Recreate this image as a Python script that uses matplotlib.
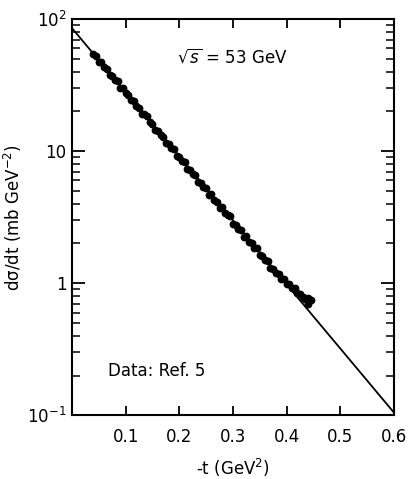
import matplotlib
matplotlib.use("Agg")
import matplotlib.pyplot as plt
from matplotlib.ticker import LogLocator, NullFormatter, FixedLocator

# -t values (GeV^2) and d(sigma)/dt (mb GeV^-2)
t_data = [0.040, 0.045, 0.050, 0.055, 0.060, 0.065, 0.070, 0.075, 0.080, 0.085,
          0.090, 0.095, 0.100, 0.105, 0.110, 0.115, 0.120, 0.125, 0.130, 0.135,
          0.140, 0.145, 0.150, 0.155, 0.160, 0.165, 0.170, 0.175, 0.180, 0.185,
          0.190, 0.195, 0.200, 0.205, 0.210, 0.215, 0.220, 0.225, 0.230, 0.235,
          0.240, 0.245, 0.250, 0.255, 0.260, 0.265, 0.270, 0.275, 0.280, 0.285,
          0.290, 0.295, 0.300, 0.305, 0.310, 0.315, 0.320, 0.325, 0.330, 0.335,
          0.340, 0.345, 0.350, 0.355, 0.360, 0.365, 0.370, 0.375, 0.380, 0.385,
          0.390, 0.395, 0.400, 0.405, 0.410, 0.415, 0.420, 0.425, 0.430, 0.435,
          0.440, 0.440, 0.445]
dsdt_data = [54.3, 52.6, 47.4, 47.0, 43.4, 41.9, 37.8, 37.4, 34.6, 33.8,
             30.1, 29.9, 27.5, 26.7, 24.3, 24.1, 22.0, 21.2, 19.2, 19.0,
             18.4, 16.6, 16.0, 14.5, 14.3, 13.2, 12.9, 11.5, 11.4, 10.5,
             10.4, 9.18, 9.10, 8.40, 8.30, 7.33, 7.24, 6.70, 6.62, 5.83,
             5.78, 5.33, 5.22, 4.66, 4.72, 4.26, 4.11, 3.72, 3.76, 3.40,
             3.28, 3.24, 2.80, 2.77, 2.56, 2.53, 2.23, 2.26, 2.04, 2.02,
             1.86, 1.85, 1.63, 1.61, 1.49, 1.47, 1.30, 1.28, 1.19, 1.17,
             1.08, 1.07, 0.99, 0.98, 0.925, 0.914, 0.845, 0.836, 0.791, 0.764,
             0.774, 0.70, 0.748]

# straight-line (exponential) fit, end points
t_fit = [0.0, 0.6]
dsdt_fit = [85.5, 0.105]

x_ticks = [0.1, 0.2, 0.3, 0.4, 0.5, 0.6]
x_labels = ["0.1", "0.2", "0.3", "0.4", "0.5", "0.6"]
y_ticks = [0.1, 1, 10, 100]
y_labels = [r"$10^{-1}$", "1", "10", r"$10^{2}$"]

fig = plt.figure(figsize=(4.09, 4.79), dpi=100)
ax = fig.add_axes([0.176, 0.133, 0.787, 0.827])

ax.plot(t_fit, dsdt_fit, color="black", lw=1.3)
ax.plot(t_data, dsdt_data, "o", color="black", ms=4.6, mec="black")

ax.set_yscale("log")
ax.set_xlim(0, 0.6)
ax.set_ylim(0.1, 100)

ax.xaxis.set_major_locator(FixedLocator(x_ticks))
ax.set_xticklabels(x_labels)
ax.set_yticks(y_ticks)
ax.set_yticklabels(y_labels)
ax.yaxis.set_minor_locator(LogLocator(base=10, subs=range(2, 10)))
ax.yaxis.set_minor_formatter(NullFormatter())

ax.tick_params(axis="x", which="major", direction="in", top=True, length=6.5,
               width=1.3, labelsize=12, pad=9)
ax.tick_params(axis="y", which="major", direction="in", right=True, length=9.5,
               width=1.3, labelsize=12, pad=4)
ax.tick_params(axis="y", which="minor", direction="in", right=True, length=5.8,
               width=1.1)
for sp in ax.spines.values():
    sp.set_linewidth(1.5)

ax.set_xlabel("-t (GeV$^{2}$)", fontsize=12, labelpad=8)
ax.set_ylabel("d\u03c3/dt (mb GeV$^{-2}$)", fontsize=12)
ax.yaxis.set_label_coords(-0.15, 0.5)

ax.text(0.497, 0.904, r"$\sqrt{s}$ = 53 GeV", transform=ax.transAxes,
        ha="center", va="center", fontsize=12)
ax.text(0.264, 0.113, "Data: Ref. 5", transform=ax.transAxes,
        ha="center", va="center", fontsize=12)

fig.savefig("out.png", dpi=100)
